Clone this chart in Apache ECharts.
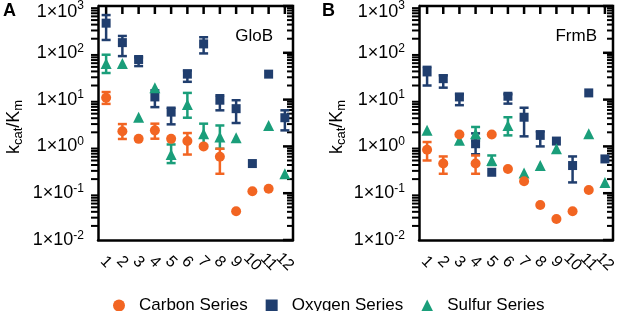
<!DOCTYPE html>
<html>
<head>
<meta charset="utf-8">
<script src="https://cdn.jsdelivr.net/npm/echarts@6/dist/echarts.min.js"></script>
<style>
html, body { margin: 0; padding: 0; background: #fff; }
#chart { width: 617px; height: 311px; }
</style>
</head>
<body>
<div id="chart"></div>
<script>
// categories along x (compound number)
const categories = ['1', '2', '3', '4', '5', '6', '7', '8', '9', '10', '11', '12'];
const seriesNames = ['Carbon Series', 'Oxygen Series', 'Sulfur Series'];

// panel A - GloB
const carbonA = [11, 2.1, 1.45, 2.2, 1.45, 1.3, 1.0, 0.6, 0.041, 0.11, 0.125, null];
const carbonAErr = [[8.1, 14.5], [1.44, 3.0], null, [1.46, 3.06], null, [0.67, 1.93], null, [0.26, 0.89], null, null, null, null];
const oxygenA = [430, 165, 72, 11.4, 5.4, 35, 155, 9.7, 6.4, 0.43, 35, 4.1];
const oxygenAErr = [[188, 640], [85, 229], [52, 80], [6.9, 15.8], [2.96, 6.7], [24, 42], [97, 215], [5.9, 12.4], [3.16, 9.7], null, null, [2.2, 5.9]];
const sulfurA = [59, 59, 4.2, 18, 0.67, 7.9, 1.87, 1.58, 1.53, null, 2.8, 0.26];
const sulfurAErr = [[37, 91], null, null, null, [0.44, 1.1], [4.1, 13.9], [1.05, 3.06], [0.89, 2.8], null, null, null, null];

// panel B - FrmB
const carbonB = [0.85, 0.43, 1.8, 0.43, 1.8, 0.33, 0.18, 0.056, 0.028, 0.041, 0.117, null];
const carbonBErr = [[0.5, 1.24], [0.26, 0.61], null, [0.26, 0.64], null, null, null, null, null, null, null, null];
const oxygenB = [39, 28, 11.4, 1.14, 0.28, 11.8, 4.2, 1.72, 1.3, 0.39, 13.9, 0.54];
const oxygenBErr = [[20, 50], [18, 33], [7.6, 13], [0.68, 1.9], null, [8.2, 13], [1.64, 6.7], [1.0, 2.1], null, [0.17, 0.61], null, null];
const sulfurB = [2.2, null, 1.35, 1.87, 0.5, 2.8, 0.27, 0.39, 0.89, null, 1.87, 0.17];
const sulfurBErr = [null, null, null, [1.3, 2.6], [0.4, 0.64], [1.72, 4.2], null, null, null, null, null, null];

const colors = ['#F26522', '#203E6E', '#1A9E7A'];
const symbols = ['circle', 'rect', 'triangle'];
const sizes = [10, 9, 11];
const font = 'Liberation Sans, Arial, sans-serif';

// tick rows for the frame: [category index, y value, kind]
// kind 0 = minor log tick, 1 = decade tick, 2 = top x tick, 3 = top/right border
const frameRows = [[0, 1000, 3], [0, 1000, 1]];
for (let n = -2; n < 3; n++) {
    for (let k = 1; k <= 9; k++) frameRows.push([0, k * Math.pow(10, n), k === 1 ? 1 : 0]);
}
categories.forEach((c, i) => frameRows.push([i, 1000, 2]));

function errorBars(params, api) {
    const i = api.value(0);
    const lo = api.coord([i, api.value(1)]);
    const hi = api.coord([i, api.value(2)]);
    const cap = 4.5;
    const style = { stroke: api.visual('color'), lineWidth: 2.5 };
    return {
        type: 'group',
        children: [
            { type: 'line', shape: { x1: lo[0], y1: lo[1], x2: hi[0], y2: hi[1] }, style: style },
            { type: 'line', shape: { x1: lo[0] - cap, y1: lo[1], x2: lo[0] + cap, y2: lo[1] }, style: style },
            { type: 'line', shape: { x1: hi[0] - cap, y1: hi[1], x2: hi[0] + cap, y2: hi[1] }, style: style }
        ]
    };
}

// box border, inward ticks on top and right, minor ticks on the left
function frame(params, api) {
    const cs = params.coordSys;
    const kind = api.value(2);
    const right = cs.x + cs.width;
    if (kind === 3) {
        return {
            type: 'polyline',
            shape: { points: [[cs.x, cs.y], [right, cs.y], [right, cs.y + cs.height]] },
            style: { stroke: '#000', lineWidth: 2.5, fill: null }
        };
    }
    const p = api.coord([api.value(0), api.value(1)]);
    if (kind === 2) {
        return { type: 'line', shape: { x1: p[0], y1: cs.y, x2: p[0], y2: cs.y + 8 }, style: { stroke: '#000', lineWidth: 2.5 } };
    }
    const major = kind === 1;
    const kids = [{
        type: 'line', shape: { x1: right - (major ? 10 : 6), y1: p[1], x2: right, y2: p[1] },
        style: { stroke: '#000', lineWidth: major ? 2.5 : 2 }
    }];
    if (!major) {
        kids.push({ type: 'line', shape: { x1: cs.x - 7, y1: p[1], x2: cs.x, y2: p[1] }, style: { stroke: '#000', lineWidth: 2 } });
    }
    return { type: 'group', children: kids };
}

const axisLine = { show: true, onZero: false, lineStyle: { color: '#000', width: 2.5 } };

function xAxis(gridIndex) {
    return {
        type: 'category', gridIndex, data: categories, position: 'bottom',
        axisLine,
        axisTick: { alignWithLabel: true, length: 12, lineStyle: { color: '#000', width: 2.5 } },
        axisLabel: {
            interval: 0, rotate: -45, align: 'center', verticalAlign: 'middle',
            fontSize: 16, fontFamily: font, color: '#000', margin: 22
        }
    };
}

function yAxis(gridIndex) {
    return {
        type: 'log', gridIndex, logBase: 10, min: 0.01, max: 1000, interval: 1, position: 'left',
        axisLine,
        axisTick: { length: 12, lineStyle: { color: '#000', width: 2.5 } },
        splitLine: { show: false },
        axisLabel: {
            margin: 14, color: '#000', fontSize: 18, fontFamily: font,
            formatter: v => {
                const e = Math.round(Math.log10(v));
                // the top label sits a little lower, as in the original
                return e === 3 ? '{top|1×10}{topSup|' + e + '}' : '1×10{sup|' + e + '}';
            },
            rich: {
                sup: { fontSize: 12, padding: [0, 0, 9, 0] },
                top: { fontSize: 18, padding: [12, 0, 0, 0] },
                topSup: { fontSize: 12 }
            }
        }
    };
}

const series = [];
function addPanel(idx, panel) {
    series.push({
        type: 'custom', name: 'frame', xAxisIndex: idx, yAxisIndex: idx,
        renderItem: frame, encode: { x: 0, y: 1 }, data: frameRows
    });
    // error bars first, then markers; carbon drawn last
    [1, 2, 0].forEach(s => {
        const errs = panel[s][1];
        series.push({
            type: 'custom', name: seriesNames[s] + ' error', xAxisIndex: idx, yAxisIndex: idx,
            renderItem: errorBars,
            itemStyle: { color: colors[s] },
            encode: { x: 0, y: [1, 2] },
            data: errs.map((e, i) => e ? [i, e[0], e[1]] : null).filter(Boolean)
        });
    });
    [1, 2, 0].forEach(s => {
        const vals = panel[s][0];
        series.push({
            type: 'scatter', name: seriesNames[s], xAxisIndex: idx, yAxisIndex: idx,
            symbol: symbols[s], symbolSize: sizes[s],
            itemStyle: { color: colors[s], opacity: 1 },
            data: vals.map((v, i) => v == null ? null : [i, v]).filter(Boolean)
        });
    });
}
addPanel(0, [[carbonA, carbonAErr], [oxygenA, oxygenAErr], [sulfurA, sulfurAErr]]);
addPanel(1, [[carbonB, carbonBErr], [oxygenB, oxygenBErr], [sulfurB, sulfurBErr]]);

const yName = (x) => ({
    type: 'text', x: x, y: 127, rotation: Math.PI / 2,
    style: {
        text: 'k{sub|cat}/K{sub|m}', fill: '#000', font: '18px ' + font,
        align: 'center', verticalAlign: 'middle',
        rich: { sub: { fontSize: 13, padding: [8, 0, 0, 0] } }
    }
});

const chart = echarts.init(document.getElementById('chart'));
chart.setOption({
    animation: false,
    backgroundColor: '#fff',
    grid: [
        { left: 98, top: 6, width: 195, height: 234, outerBoundsMode: 'none', containLabel: false },
        { left: 419, top: 6, width: 194, height: 234, outerBoundsMode: 'none', containLabel: false }
    ],
    xAxis: [xAxis(0), xAxis(1)],
    yAxis: [yAxis(0), yAxis(1)],
    legend: {
        left: 108, top: 292, itemWidth: 12, itemHeight: 12, itemGap: 18,
        textStyle: { fontSize: 17, fontFamily: font, color: '#000', padding: [0, 0, 0, 9] },
        data: [
            { name: 'Carbon Series', icon: 'circle' },
            { name: 'Oxygen Series', icon: 'rect' },
            { name: 'Sulfur Series', icon: 'triangle' }
        ]
    },
    graphic: [
        { type: 'text', x: 3, y: 2, style: { text: 'A', font: 'bold 18px ' + font, fill: '#000' } },
        { type: 'text', x: 322, y: 2, style: { text: 'B', font: 'bold 18px ' + font, fill: '#000' } },
        { type: 'text', x: 273, y: 36, style: { text: 'GloB', font: '17px ' + font, fill: '#000', align: 'right', verticalAlign: 'middle' } },
        { type: 'text', x: 597, y: 36, style: { text: 'FrmB', font: '17px ' + font, fill: '#000', align: 'right', verticalAlign: 'middle' } },
        yName(14),
        yName(337)
    ],
    series: series
});
</script>
</body>
</html>
